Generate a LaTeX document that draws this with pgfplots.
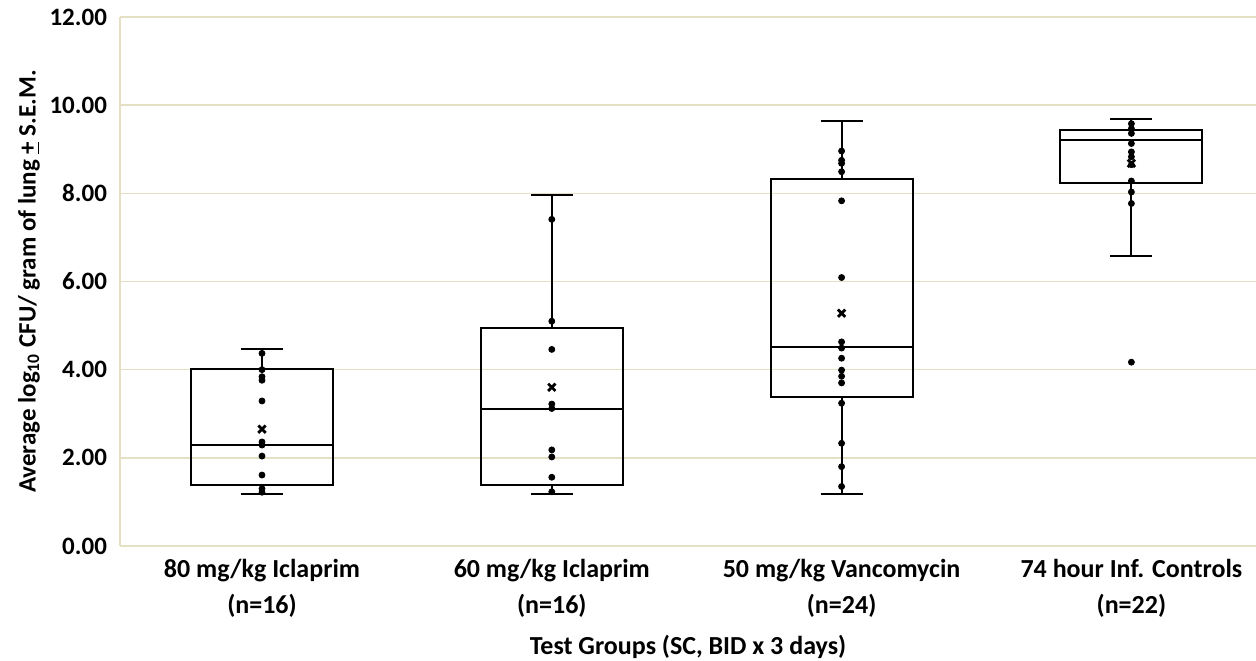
\documentclass[border=0pt]{standalone}
\usepackage{pgfplots}
\pgfplotsset{compat=1.18}
\usepgfplotslibrary{statistics}
\usepackage{fontspec}
\setmainfont{Carlito}
\definecolor{gridc}{RGB}{228,224,196}
\begin{document}
\begin{tikzpicture}
\begin{axis}[
  scale only axis, width=568pt, height=264.5pt,
  xmin=0.51, xmax=4.43, ymin=0, ymax=12,
  boxplot/draw direction=y,
  ytick={0,2,4,6,8,10,12},
  xtick={1,2,3,4},
  xticklabels={{80 mg/kg Iclaprim\\[3pt](n=16)},{60 mg/kg Iclaprim\\[3pt](n=16)},{50 mg/kg Vancomycin\\[3pt](n=24)},{74 hour Inf. Controls\\[3pt](n=22)}},
  xticklabel style={align=center, font=\bfseries\fontsize{13}{15}\selectfont, yshift=-3pt},
  yticklabel style={/pgf/number format/fixed, /pgf/number format/fixed zerofill, /pgf/number format/precision=2, /pgf/number format/assume math mode=true, font=\bfseries\fontsize{12.5}{15}\selectfont, xshift=-3pt},
  axis lines*=left, axis line style={gridc, line width=0.8pt},
  major tick length=0pt,
  ymajorgrids, grid style={gridc, line width=0.8pt},
  xlabel={Test Groups (SC, BID x 3 days)},
  ylabel={Average log\textsubscript{10} CFU/ gram of lung \underline{+} S.E.M.},
  xlabel style={font=\bfseries\fontsize{13}{15}\selectfont, yshift=-2pt},
  ylabel style={font=\bfseries\fontsize{12.5}{15}\selectfont, yshift=-2pt},
  clip=false,
]
\addplot+[black, solid, line width=1pt, mark=none, boxplot prepared={draw position=1, lower whisker=1.18, lower quartile=1.38, median=2.29, upper quartile=4.01, upper whisker=4.46, box extend=0.49, whisker extend=0.145}] coordinates {};
\addplot+[black, solid, line width=1pt, mark=none, boxplot prepared={draw position=2, lower whisker=1.19, lower quartile=1.38, median=3.10, upper quartile=4.95, upper whisker=7.97, box extend=0.49, whisker extend=0.145}] coordinates {};
\addplot+[black, solid, line width=1pt, mark=none, boxplot prepared={draw position=3, lower whisker=1.19, lower quartile=3.37, median=4.52, upper quartile=8.32, upper whisker=9.64, box extend=0.49, whisker extend=0.145}] coordinates {};
\addplot+[black, solid, line width=1pt, mark=none, boxplot prepared={draw position=4, lower whisker=6.58, lower quartile=8.24, median=9.22, upper quartile=9.43, upper whisker=9.68, box extend=0.49, whisker extend=0.145}] coordinates {};
% individual points
\addplot[only marks, mark=*, mark size=1.5pt, black] coordinates {
 (1,4.37) (1,4.00) (1,3.84) (1,3.76) (1,3.29) (1,2.36) (1,2.29) (1,2.04) (1,1.61) (1,1.30) (1,1.22)
 (2,7.41) (2,5.10) (2,4.46) (2,3.22) (2,3.12) (2,2.18) (2,2.02) (2,1.56) (2,1.23)
 (3,8.96) (3,8.75) (3,8.68) (3,8.49) (3,7.83) (3,6.09) (3,4.63) (3,4.49) (3,4.26) (3,3.99) (3,3.85) (3,3.70) (3,3.24) (3,2.33) (3,1.80) (3,1.35)
 (4,9.58) (4,9.47) (4,9.36) (4,9.13) (4,8.94) (4,8.83) (4,8.65) (4,8.28) (4,8.03) (4,7.77) (4,4.17)
};
% means
\addplot[only marks, mark=x, mark size=2.6pt, black, line width=1.4pt] coordinates {
 (1,2.65) (2,3.60) (3,5.28) (4,8.68)
};
\end{axis}
\pgfresetboundingbox
\useasboundingbox ([xshift=-60pt,yshift=-57pt]current axis.south west) rectangle ([yshift=8.5pt]current axis.north east);
\end{tikzpicture}
\end{document}
